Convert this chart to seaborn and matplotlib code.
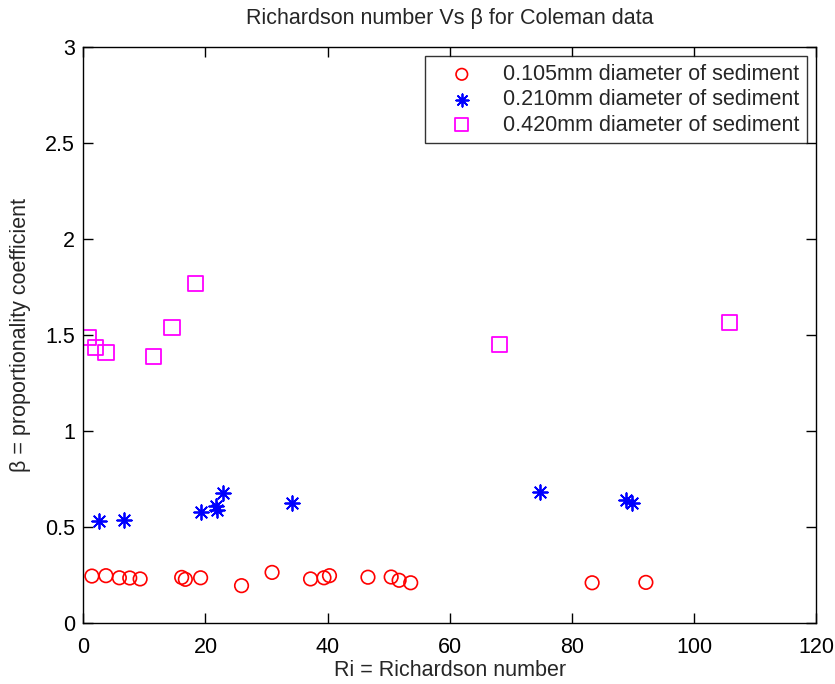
import pandas as pd
import matplotlib
matplotlib.use("Agg")
import matplotlib.pyplot as plt
import seaborn as sns

# 0.105 mm sediment
ri_105 = [1.4, 3.7, 5.9, 7.6, 9.3, 16.1, 16.7, 19.2, 25.9, 30.9, 37.2, 39.4, 40.3,
          46.6, 50.4, 51.7, 53.6, 83.3, 92.1]
beta_105 = [0.243, 0.245, 0.234, 0.233, 0.228, 0.236, 0.226, 0.234, 0.193, 0.262,
            0.228, 0.234, 0.245, 0.237, 0.238, 0.221, 0.208, 0.208, 0.210]

# 0.210 mm sediment
ri_210 = [2.6, 6.7, 19.2, 21.7, 21.9, 22.9, 34.2, 74.8, 88.8, 89.9]
beta_210 = [0.530, 0.535, 0.578, 0.608, 0.587, 0.677, 0.625, 0.680, 0.639, 0.625]

# 0.420 mm sediment
ri_420 = [0.8, 2.0, 3.7, 11.5, 14.5, 18.4, 68.1, 105.8]
beta_420 = [1.484, 1.432, 1.406, 1.387, 1.536, 1.768, 1.450, 1.563]

labels = ["0.105mm diameter of sediment",
          "0.210mm diameter of sediment",
          "0.420mm diameter of sediment"]

df_105 = pd.DataFrame({"ri": ri_105, "beta": beta_105})
df_210 = pd.DataFrame({"ri": ri_210, "beta": beta_210})
df_420 = pd.DataFrame({"ri": ri_420, "beta": beta_420})

sns.set_style("white")
plt.rcParams["font.family"] = ["Liberation Sans", "DejaVu Sans"]
fs = 15.5

fig = plt.figure(figsize=(8.35, 6.84), dpi=100)
ax = fig.add_axes([0.0998, 0.0896, 0.8778, 0.8421])

sns.scatterplot(data=df_105, x="ri", y="beta", ax=ax, marker="o", s=95,
                facecolors="none", edgecolor="#ff0000", linewidth=1.2,
                label=labels[0])
sns.scatterplot(data=df_210, x="ri", y="beta", ax=ax, marker=(8, 2, 0), s=110,
                color="#0000ff", linewidth=1.3, label=labels[1])
sns.scatterplot(data=df_420, x="ri", y="beta", ax=ax, marker="s", s=120,
                facecolors="none", edgecolor="#ff00ff", linewidth=1.3,
                label=labels[2])

ax.set_xlim(0, 120)
ax.set_ylim(0, 3)
ax.set_xticks(range(0, 121, 20))
ax.set_yticks([0, 0.5, 1, 1.5, 2, 2.5, 3])
ax.set_yticklabels(["0", "0.5", "1", "1.5", "2", "2.5", "3"])
ax.tick_params(direction="in", length=7, width=1, labelsize=fs,
               top=True, right=True, bottom=True, left=True, colors="black")
ax.tick_params(axis="x", pad=10)
ax.tick_params(axis="y", pad=6)
for sp in ax.spines.values():
    sp.set_color("black")
    sp.set_linewidth(1)

ax.set_title("Richardson number Vs β for Coleman data", fontsize=fs, pad=16)
ax.set_xlabel("Ri = Richardson number", fontsize=fs, labelpad=2)
ax.set_ylabel("β = proportionality coefficient", fontsize=fs, labelpad=10)

leg = ax.legend(loc="upper right", fontsize=fs, frameon=True, fancybox=False,
                edgecolor="black", borderaxespad=0.45, handletextpad=0.55,
                handlelength=2.7, labelspacing=0.2, borderpad=0.35,
                markerscale=0.85)
leg.get_frame().set_linewidth(1)

fig.savefig("out.png", dpi=100)
